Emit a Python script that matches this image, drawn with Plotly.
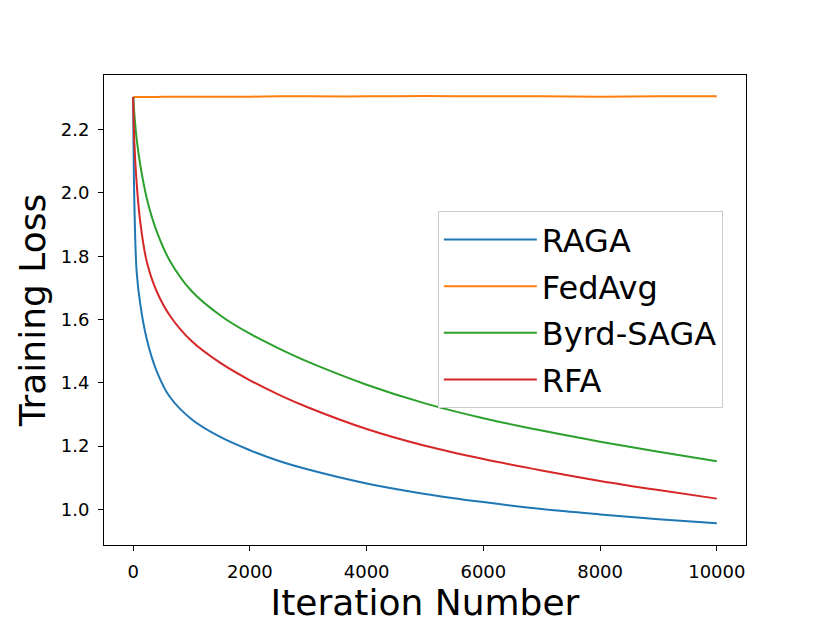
import plotly.graph_objects as go

# iteration grid
iterations = [0, 20, 60, 120, 230, 400, 630, 1000, 1500, 2000,
              2500, 3000, 4000, 5000, 6000, 7000, 8000, 9000, 10000]

raga = [2.303, 1.97, 1.75, 1.65, 1.54, 1.438, 1.355, 1.285, 1.228, 1.187,
        1.153, 1.126, 1.082, 1.049, 1.023, 1.001, 0.984, 0.969, 0.956]
fedavg = [2.303, 2.303, 2.303, 2.303, 2.303, 2.303, 2.304, 2.304, 2.304, 2.304,
          2.305, 2.305, 2.305, 2.306, 2.305, 2.305, 2.304, 2.305, 2.305]
byrd_saga = [2.303, 2.25, 2.17, 2.09, 1.985, 1.880, 1.785, 1.690, 1.612, 1.555,
             1.508, 1.466, 1.394, 1.335, 1.288, 1.249, 1.214, 1.182, 1.152]
rfa = [2.303, 2.16, 2.03, 1.91, 1.785, 1.690, 1.612, 1.532, 1.462, 1.408,
       1.362, 1.322, 1.254, 1.201, 1.159, 1.123, 1.090, 1.061, 1.034]

x_ticks = [0, 2000, 4000, 6000, 8000, 10000]
y_ticks = [1.0, 1.2, 1.4, 1.6, 1.8, 2.0, 2.2]

series = [
    ("RAGA", raga, "#1f77b4"),
    ("FedAvg", fedavg, "#ff7f0e"),
    ("Byrd-SAGA", byrd_saga, "#2ca02c"),
    ("RFA", rfa, "#d62728"),
]

fig = go.Figure()
for name, vals, color in series:
    fig.add_trace(go.Scatter(
        x=iterations, y=vals, mode="lines", name=name, legendgroup=name,
        line=dict(color=color, width=2, shape="spline", smoothing=1.0),
    ))

axis_style = dict(
    showline=True, linecolor="black", linewidth=1, mirror=True,
    ticks="outside", ticklen=5, tickcolor="black", showgrid=False,
    zeroline=False, ticklabelstandoff=5,
    tickfont=dict(family="DejaVu Sans", size=18, color="black"),
)

# page body has an 8px margin, so the figure is a bit smaller than the window
fig.update_layout(
    width=822, height=615,
    margin=dict(l=96, r=84, t=67, b=69),
    plot_bgcolor="white", paper_bgcolor="white",
    font=dict(family="DejaVu Sans", color="black"),
    legend=dict(
        x=0.52, y=0.71, xanchor="left", yanchor="top",
        bgcolor="white", bordercolor="#cccccc", borderwidth=1,
        font=dict(family="DejaVu Sans", size=32, color="black"),
        itemwidth=93, tracegroupgap=2,
    ),
)
fig.update_xaxes(
    range=[-500, 10500], tickvals=x_ticks, ticktext=[str(t) for t in x_ticks],
    title=dict(text="Iteration Number", font=dict(size=36), standoff=4),
    **axis_style,
)
fig.update_yaxes(
    range=[0.8875, 2.3725], tickvals=y_ticks, tickformat=".1f",
    title=dict(text="Training Loss", font=dict(size=36), standoff=4),
    **axis_style,
)

fig.write_html("out.html")
